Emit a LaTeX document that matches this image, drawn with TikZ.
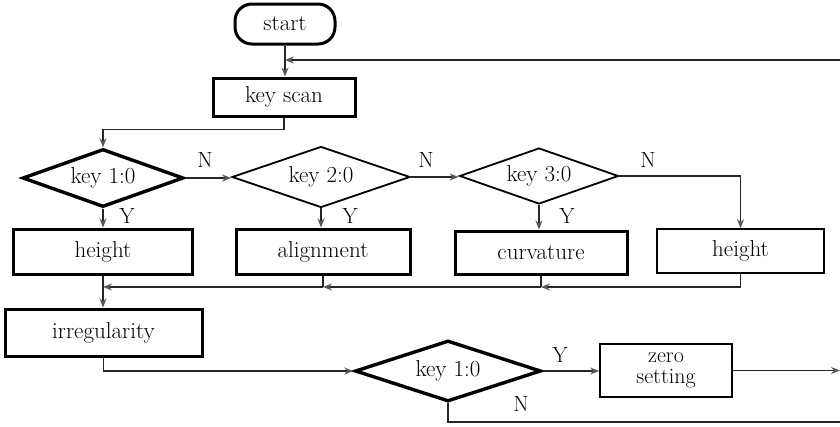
\documentclass[tikz,border=0pt]{standalone}
\usepackage{fontspec}
\usetikzlibrary{shapes.geometric,arrows.meta}
\begin{document}
\begin{tikzpicture}[x=1pt,y=-1pt,
  every node/.style={font=\fontsize{23}{20}\selectfont},
  ln/.style={draw=black!85,line width=1.6pt},
  arr/.style={ln,-{Stealth[length=9pt,width=7pt,color=black!65]}},
  boxn/.style={draw=black,line width=1.6pt,rectangle,inner sep=0pt},
  boxt/.style={draw=black,line width=3pt,rectangle,inner sep=0pt},
  dia/.style={draw=black,line width=1.8pt,diamond,aspect=3,inner sep=0pt},
  diat/.style={dia,line width=3.4pt},
  lab/.style={inner sep=0pt,font=\fontsize{22}{20}\selectfont}
]
\useasboundingbox (0,0) rectangle (840,426);
\node[boxt,rounded corners=17pt,minimum width=100,minimum height=40] (start) at (285,24) {start};
\node[boxt,minimum width=142,minimum height=38] (keyscan) at (284,97) {key scan};
\node[diat,minimum width=161,minimum height=58] (k1) at (103,178) {key 1:0};
\node[dia,minimum width=178,minimum height=61] (k2) at (321,177) {key 2:0};
\node[dia,minimum width=159,minimum height=56] (k3) at (539,176) {key 3:0};
\node[boxt,minimum width=179,minimum height=45] (h1) at (103,251.5) {height};
\node[boxt,minimum width=174,minimum height=45] (al) at (323,251.5) {alignment};
\node[boxt,minimum width=172,minimum height=43] (cu) at (541,252.5) {curvature};
\node[boxn,minimum width=167,minimum height=44] (h2) at (740.5,251) {height};
\node[boxt,minimum width=197,minimum height=47] (ir) at (103.5,332.5) {irregularity};
\node[diat,minimum width=186,minimum height=61] (k4) at (448,371) {key 1:0};
\node[boxn,minimum width=132,minimum height=53,align=center,font=\fontsize{22}{21}\selectfont] (zs) at (666,370.5) {zero\\setting};

\coordinate (rin) at (840,60);
\coordinate (y287) at (0,287);
\coordinate (zout) at (840,370.5);
\coordinate (nout) at (840,422);

\draw[arr] (start.south) -- (start.south |- keyscan.north);
\draw[arr] (rin) -- (rin -| start.south);
\draw[arr] (keyscan.south) -- ++(0,12) -| (k1.north);
\draw[arr] (k1.east) -- (k1.east -| k2.west);
\draw[arr] (k2.east) -- (k2.east -| k3.west);
\draw[arr] (k3.east) -| (h2.north);
\draw[arr] (k1.south) -- (k1.south |- h1.north);
\draw[arr] (k2.south) -- (k2.south |- al.north);
\draw[arr] (k3.south) -- (k3.south |- cu.north);
\draw[arr] (h2.south) |- (cu.south |- y287);
\draw[ln] (cu.south) -- (cu.south |- y287);
\draw[arr] (cu.south |- y287) -- (al.south |- y287);
\draw[ln] (al.south) -- (al.south |- y287);
\draw[arr] (al.south |- y287) -- (h1.south |- y287);
\draw[arr] (h1.south) -- (h1.south |- ir.north);
\draw[arr] (ir.south) |- (k4.west);
\draw[arr] (k4.east) -- (k4.east -| zs.west);
\draw[arr] (zs.east) -- (zout);
\draw[ln] (k4.south) |- (nout);

\node[lab] (n1) at (205,160) {N};
\node[lab] (n2) at (426,160) {N};
\node[lab] (n3) at (648,160) {N};
\node[lab] (y1) at (127,216) {Y};
\node[lab] (y2) at (350,216) {Y};
\node[lab] (y3) at (567,216) {Y};
\node[lab] (y4) at (560,355) {Y};
\node[lab] (n4) at (521,404) {N};
\end{tikzpicture}
\end{document}
